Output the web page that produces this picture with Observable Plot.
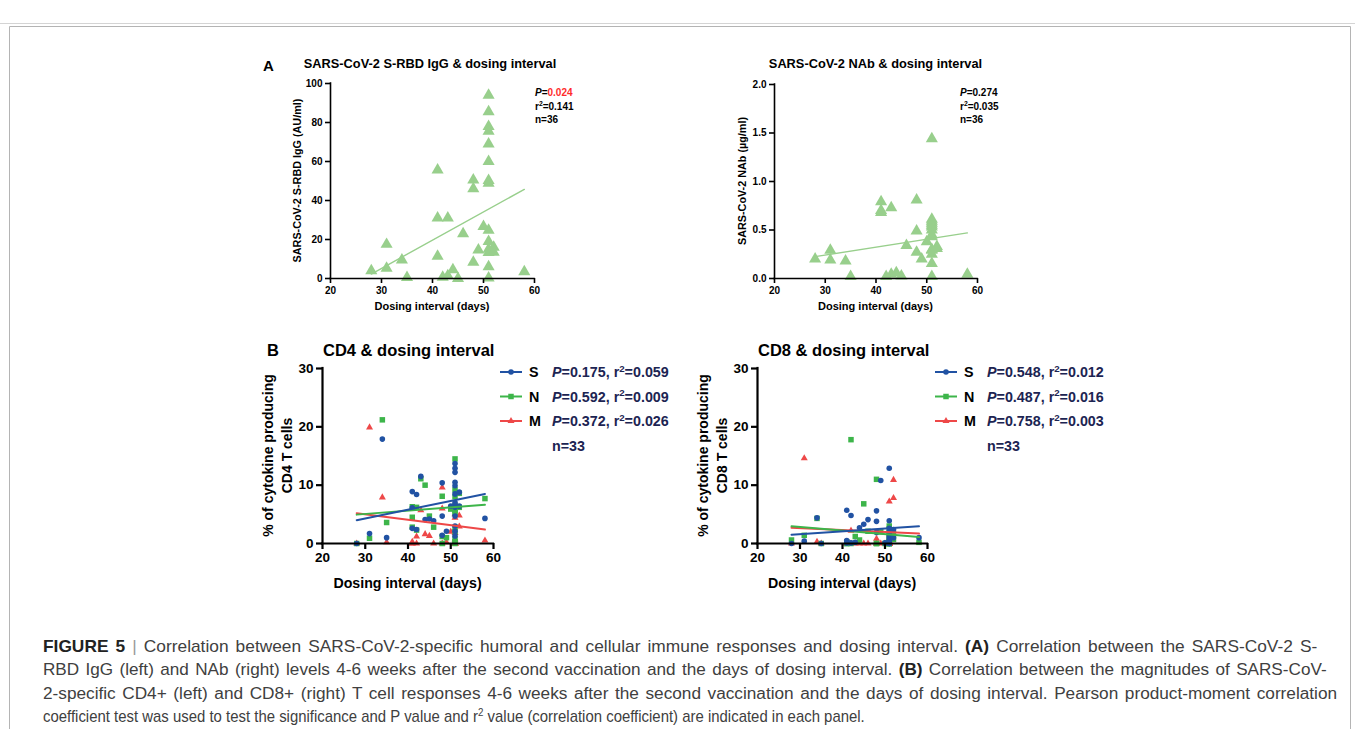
<!DOCTYPE html>
<html><head><meta charset="utf-8">
<script src="https://cdn.jsdelivr.net/npm/d3@7"></script>
<script src="https://cdn.jsdelivr.net/npm/@observablehq/plot@0.6"></script>
<style>
html,body{margin:0;padding:0;background:#fff;}
#page{position:relative;width:1355px;height:729px;overflow:hidden;font-family:"Liberation Sans",Arial,sans-serif;background:#fff;}
#page svg.plotpanel{position:absolute;max-width:none;}
#overlay{position:absolute;left:0;top:0;pointer-events:none;}
</style></head><body><div id="page"></div>
<script>
// ---------------- data ----------------
const xTicks = [20, 30, 40, 50, 60];
const iggTicks = [0, 20, 40, 60, 80, 100];
const nabTicks = [0, 0.5, 1.0, 1.5, 2.0];
const cellTicks = [0, 10, 20, 30];

const humoralDays = [28,31,31,34,35,41,41,41,42,43,43,44,45,46,48,48,48,49,50,
  51,51,51,51,51,51,51,51,51,51,51,51,51,51,52,52,58];
const iggValues = [4.0,17.5,5.3,9.5,0.5,55.7,31,11.4,0.6,31,1.4,4.5,0,23,50.5,46,8.3,14.6,26.7,
  94,85.5,78,75.5,69,60,50.2,48.8,24.7,19,15,13.3,6,0.3,16,13.5,3.4];
const nabValues = [0.20,0.29,0.19,0.18,0.02,0.79,0.70,0.68,0.02,0.73,0.045,0.06,0.025,0.34,0.81,0.49,0.27,0.20,0.38,
  1.44,0.61,0.59,0.57,0.55,0.53,0.50,0.45,0.43,0.30,0.29,0.25,0.155,0.02,0.33,0.31,0.045];

const cellDays = [28,31,34,35,41,41,41,42,42,43,44,45,46,48,48,48,49,50,
  51,51,51,51,51,51,51,51,51,51,51,51,52,52,58];
const cd4S = [0,1.7,17.9,1.0,8.9,6.1,2.6,8.4,2.4,11.5,4.1,4.2,3.9,10.4,4.7,1.4,2.1,6.4,
  13.7,12.9,12.2,10.5,9.9,8.5,7.0,6.2,4.7,3.0,2.1,1.3,8.8,6.4,4.3];
const cd4N = [0,0.9,21.2,3.6,6.3,4.5,2.8,6.2,2.3,11.1,10.0,4.7,2.8,8.1,1.2,0,1.0,5.9,
  14.5,9.2,8.0,6.5,6.0,5.6,5.3,2.8,2.0,0.8,0.3,0,6.2,8.6,7.7];
const cd4M = [0,19.9,7.9,0.2,0.3,0,0,1.2,0,5.7,1.6,1.3,0,9.6,6.0,0,0.2,2.0,
  6.8,5.0,4.4,1.8,0.7,0.3,0,0,0,0,0,0,4.8,2.9,0.5];
const cd8S = [0,0.4,4.4,0,5.7,0.5,0.1,4.8,0.1,0.2,2.7,3.3,4.1,5.6,3.8,1.9,10.8,0.1,
  12.9,3.9,2.6,2.0,1.5,1.0,0.5,0.2,0.1,0,0,0,2.4,1.0,1.0];
const cd8N = [0.6,1.4,4.3,0,0.3,0,0,17.8,0,1.2,0.6,6.8,2.1,11.0,0,0,2.0,0,
  3.0,2.5,1.8,1.5,0.8,0.5,0.3,0,0,0,0,0,1.7,0.7,0.2];
const cd8M = [0,14.6,0.3,0,0,0,0,2.2,0,0,0,0,0,0.8,0,0,0,0,
  7.2,1.8,0.5,0,0,0,0,0,0,0,0,0,10.9,7.8,0.2];

// regression lines (value at first / last dosing interval)
const fitDays = [28, 58];
const iggFit = [2.3, 45.7];
const nabFit = [0.225, 0.47];
const cd4FitS = [4.0, 8.5], cd4FitN = [4.95, 6.65], cd4FitM = [5.2, 2.4];
const cd8FitS = [1.5, 2.95], cd8FitN = [2.95, 1.1], cd8FitM = [2.7, 1.7];

const seriesNames = ["S", "N", "M"];
const cd4P = ["0.175", "0.592", "0.372"], cd4R2 = ["0.059", "0.009", "0.026"];
const cd8P = ["0.548", "0.487", "0.758"], cd8R2 = ["0.012", "0.016", "0.003"];
const iggStats = {P: "0.024", r2: "0.141", n: "36"};
const nabStats = {P: "0.274", r2: "0.035", n: "36"};
const cellN = "33";

// ---------------- styles ----------------
const FONT = "'Liberation Sans', Arial, Helvetica, sans-serif";
const GREEN_H = "#98cf8c";
const COLS = {S: "#2152a3", N: "#3db54a", M: "#ee4848"};
const SYMS = {S: "circle", N: "square", M: "triangle"};
const page = d3.select("#page");

function rows(days, vals) { return days.map((d, i) => ({day: d, v: vals[i]})); }

function panel(cfg) {
  const marks = [];
  for (const s of cfg.series)
    marks.push(Plot.dot(rows(s.days, s.values), {x: "day", y: "v", symbol: s.symbol, r: s.r, fill: s.color, stroke: "none"}));
  for (const s of cfg.series)
    marks.push(Plot.line(rows(fitDays, s.fit), {x: "day", y: "v", stroke: s.color, strokeWidth: s.lw}));
  marks.push(Plot.ruleY([cfg.yDomain[0]], {stroke: "#000", strokeWidth: cfg.axisW, strokeLinecap: "square"}));
  marks.push(Plot.ruleX([xTicks[0]], {stroke: "#000", strokeWidth: cfg.axisW, strokeLinecap: "square"}));
  marks.push(Plot.axisX({ticks: xTicks, tickSize: cfg.tickSize, tickPadding: cfg.tickPad, strokeWidth: cfg.axisW,
    label: null, fontSize: cfg.fontSize, tickFormat: d => String(d)}));
  marks.push(Plot.axisY({ticks: cfg.yTicks, tickSize: cfg.tickSize, tickPadding: cfg.tickPad, strokeWidth: cfg.axisW,
    label: null, fontSize: cfg.fontSize, tickFormat: cfg.yFormat}));
  const svg = Plot.plot({
    width: cfg.width, height: cfg.height,
    marginLeft: cfg.mL, marginRight: cfg.mR, marginTop: cfg.mT, marginBottom: cfg.mB,
    x: {domain: [20, 60]}, y: {domain: cfg.yDomain},
    style: {fontFamily: FONT, fontWeight: "bold", fontSize: cfg.fontSize + "px", color: "#000", background: "transparent", overflow: "visible"},
    marks
  });
  svg.classList.add("plotpanel");
  svg.style.left = cfg.left + "px";
  svg.style.top = cfg.top + "px";
  page.node().appendChild(svg);
  return svg;
}

// Panel A left: IgG
panel({left: 250, top: 40, width: 380, height: 290, mL: 80, mR: 96, mT: 43, mB: 52,
  yDomain: [0, 100], yTicks: iggTicks, yFormat: d => String(d), fontSize: 10, axisW: 1.6, tickSize: 5, tickPad: 3,
  series: [{days: humoralDays, values: iggValues, fit: iggFit, symbol: "triangle", r: 4.5, color: GREEN_H, lw: 1.4}]});
// Panel A right: NAb
panel({left: 690, top: 40, width: 380, height: 290, mL: 84, mR: 93, mT: 44, mB: 52,
  yDomain: [0, 2], yTicks: nabTicks, yFormat: d3.format(".1f"), fontSize: 10, axisW: 1.6, tickSize: 5, tickPad: 3,
  series: [{days: humoralDays, values: nabValues, fit: nabFit, symbol: "triangle", r: 4.5, color: GREEN_H, lw: 1.4}]});

function cellSeries(vals, fits) {
  return ["M", "N", "S"].map(k => {
    const i = seriesNames.indexOf(k);
    return {days: cellDays, values: vals[i], fit: fits[i], symbol: SYMS[k],
      r: k === "S" ? 2.8 : k === "N" ? 3.1 : 2.6, color: COLS[k], lw: 2};
  });
}
// Panel B left: CD4
panel({left: 250, top: 340, width: 260, height: 245, mL: 72, mR: 17, mT: 28, mB: 42,
  yDomain: [0, 30], yTicks: cellTicks, yFormat: d => String(d), fontSize: 13.5, axisW: 2.2, tickSize: 6, tickPad: 3,
  series: cellSeries([cd4S, cd4N, cd4M], [cd4FitS, cd4FitN, cd4FitM])});
// Panel B right: CD8
panel({left: 690, top: 340, width: 260, height: 245, mL: 67, mR: 23, mT: 28, mB: 42,
  yDomain: [0, 30], yTicks: cellTicks, yFormat: d => String(d), fontSize: 13.5, axisW: 2.2, tickSize: 6, tickPad: 3,
  series: cellSeries([cd8S, cd8N, cd8M], [cd8FitS, cd8FitN, cd8FitM])});

// ---------------- overlay text ----------------
const ov = page.append("svg").attr("id", "overlay").attr("width", 1355).attr("height", 729)
  .style("font-family", FONT).style("font-weight", "bold");

// frame
ov.append("line").attr("x1", 0).attr("x2", 1355).attr("y1", 23.5).attr("y2", 23.5).attr("stroke", "#d4d4d4");
ov.append("path").attr("d", "M9.5,760V26.5H1350.5V760").attr("fill", "none").attr("stroke", "#b4b4b4");

function txt(x, y, s, size, o = {}) {
  const t = ov.append("text").attr("x", x).attr("y", y).attr("font-size", size).attr("fill", o.fill || "#000").text(s);
  if (o.anchor) t.attr("text-anchor", o.anchor);
  if (o.rotate) t.attr("transform", `rotate(-90 ${x} ${y})`);
  return t;
}
function rich(x, y, size, parts, fill = "#000") {
  const t = ov.append("text").attr("x", x).attr("y", y).attr("font-size", size).attr("fill", fill);
  for (const p of parts) {
    const ts = t.append("tspan").text(p.t);
    if (p.italic) ts.attr("font-style", "italic");
    if (p.fill) ts.attr("fill", p.fill);
    if (p.sup) ts.attr("font-size", size * 0.68).attr("dy", -size * 0.38);
    if (p.unsup) ts.attr("dy", size * 0.38);
  }
  return t;
}
function statParts(P, r2, pFill) {
  return [{t: "P", italic: true}, {t: "="}, {t: P, fill: pFill}, {t: ", r"}, {t: "2", sup: true}, {t: "=" + r2, unsup: true}];
}

// Panel A
txt(263, 71, "A", 15);
txt(430, 68, "SARS-CoV-2 S-RBD IgG & dosing interval", 12.8, {anchor: "middle"});
txt(875.5, 68, "SARS-CoV-2 NAb & dosing interval", 12.8, {anchor: "middle"});
txt(432, 310, "Dosing interval (days)", 11, {anchor: "middle"});
txt(875.5, 310, "Dosing interval (days)", 11, {anchor: "middle"});
txt(300.5, 180.5, "SARS-CoV-2 S-RBD IgG (AU/ml)", 10.8, {anchor: "middle", rotate: true});
txt(745.5, 181, "SARS-CoV-2 NAb (\u00b5g/ml)", 10.8, {anchor: "middle", rotate: true});
function humoralStats(x, st, pFill) {
  rich(x, 96, 10, [{t: "P", italic: true}, {t: "="}, {t: st.P, fill: pFill}]);
  rich(x, 109.5, 10, [{t: "r"}, {t: "2", sup: true}, {t: "=" + st.r2, unsup: true}]);
  txt(x, 123, "n=" + st.n, 10);
}
humoralStats(535, iggStats, "#ff2b2b");
humoralStats(960, nabStats, null);

// Panel B
txt(267, 356, "B", 16.5);
txt(323, 356, "CD4 & dosing interval", 16.5);
txt(758, 356, "CD8 & dosing interval", 16.5);
txt(407.5, 588, "Dosing interval (days)", 14.2, {anchor: "middle"});
txt(842, 588, "Dosing interval (days)", 14.2, {anchor: "middle"});
txt(273, 455.5, "% of cytokine producing", 14, {anchor: "middle", rotate: true});
txt(292, 455.5, "CD4 T cells", 14, {anchor: "middle", rotate: true});
txt(708, 455.5, "% of cytokine producing", 14, {anchor: "middle", rotate: true});
txt(727, 455.5, "CD8 T cells", 14, {anchor: "middle", rotate: true});

const legendRowsY = [372, 396.5, 421];
function legend(x0, Ps, R2s) {
  seriesNames.forEach((k, i) => {
    const y = legendRowsY[i];
    ov.append("line").attr("x1", x0).attr("x2", x0 + 22).attr("y1", y).attr("y2", y)
      .attr("stroke", COLS[k]).attr("stroke-width", 2);
    const r = k === "S" ? 2.8 : k === "N" ? 3.1 : 2.6;
    const sym = k === "S" ? d3.symbolCircle : k === "N" ? d3.symbolSquare : d3.symbolTriangle;
    ov.append("path").attr("d", d3.symbol(sym, Math.PI * r * r)()).attr("transform", `translate(${x0 + 11},${y})`)
      .attr("fill", COLS[k]);
    txt(x0 + 29, y + 5, k, 14.3);
    rich(x0 + 52, y + 5, 14.3, statParts(Ps[i], R2s[i], null), "#1c2452");
  });
  txt(x0 + 52, 450.5, "n=" + cellN, 14.3, {fill: "#1c2452"});
}
legend(500, cd4P, cd4R2);
legend(935, cd8P, cd8R2);

// ---------------- caption (justified lines) ----------------
const capLines = [
  [{t: "FIGURE 5", b: true}, {t: " | ", g: true}, {t: "Correlation between SARS-CoV-2-specific humoral and cellular immune responses and dosing interval. "}, {t: "(A)", b: true}, {t: " Correlation between the SARS-CoV-2 S-"}],
  [{t: "RBD IgG (left) and NAb (right) levels 4-6 weeks after the second vaccination and the days of dosing interval. "}, {t: "(B)", b: true}, {t: " Correlation between the magnitudes of SARS-CoV-"}],
  [{t: "2-specific CD4+ (left) and CD8+ (right) T cell responses 4-6 weeks after the second vaccination and the days of dosing interval. Pearson product-moment correlation"}],
  [{t: "coefficient test was used to test the significance and P value and r"}, {t: "2", sup: true}, {t: " value (correlation coefficient) are indicated in each panel.", unsup: true}]
];
const capX = 43;
const capY = [652, 675.5, 699, 722.5];
const capW = [1275, 1284, 1295, 822];
const capNodes = capLines.map((parts, i) => {
  const t = ov.append("text").attr("x", capX).attr("y", capY[i]).attr("font-size", 16)
    .attr("font-weight", "normal").attr("fill", "#404040");
  for (const p of parts) {
    const ts = t.append("tspan").text(p.t);
    if (p.b) ts.attr("font-weight", "bold").attr("fill", "#222");
    if (p.g) ts.attr("fill", "#999");
    if (p.sup) ts.attr("font-size", 10.5).attr("dy", -6.5);
    if (p.unsup) ts.attr("dy", 6.5);
  }
  return t;
});
const sx = capW[3] / capNodes[3].node().getComputedTextLength();
capNodes.forEach((t, i) => {
  let scale = sx;
  if (i < 3) {
    const nat = t.node().getComputedTextLength();
    const spaces = capLines[i].map(p => p.t).join("").split(" ").length - 1;
    const target = capW[i] / sx;            // unscaled target width
    const g = 1 + (target / nat - 1) * 0.8;  // share of the stretch taken by glyphs
    const ws = (target / g - nat) / spaces;  // rest taken by word gaps
    t.attr("word-spacing", ws.toFixed(3));
    scale = sx * g;
  }
  t.attr("transform", `translate(${capX},0) scale(${scale.toFixed(4)},1) translate(${-capX},0)`);
});
</script>
</body></html>
